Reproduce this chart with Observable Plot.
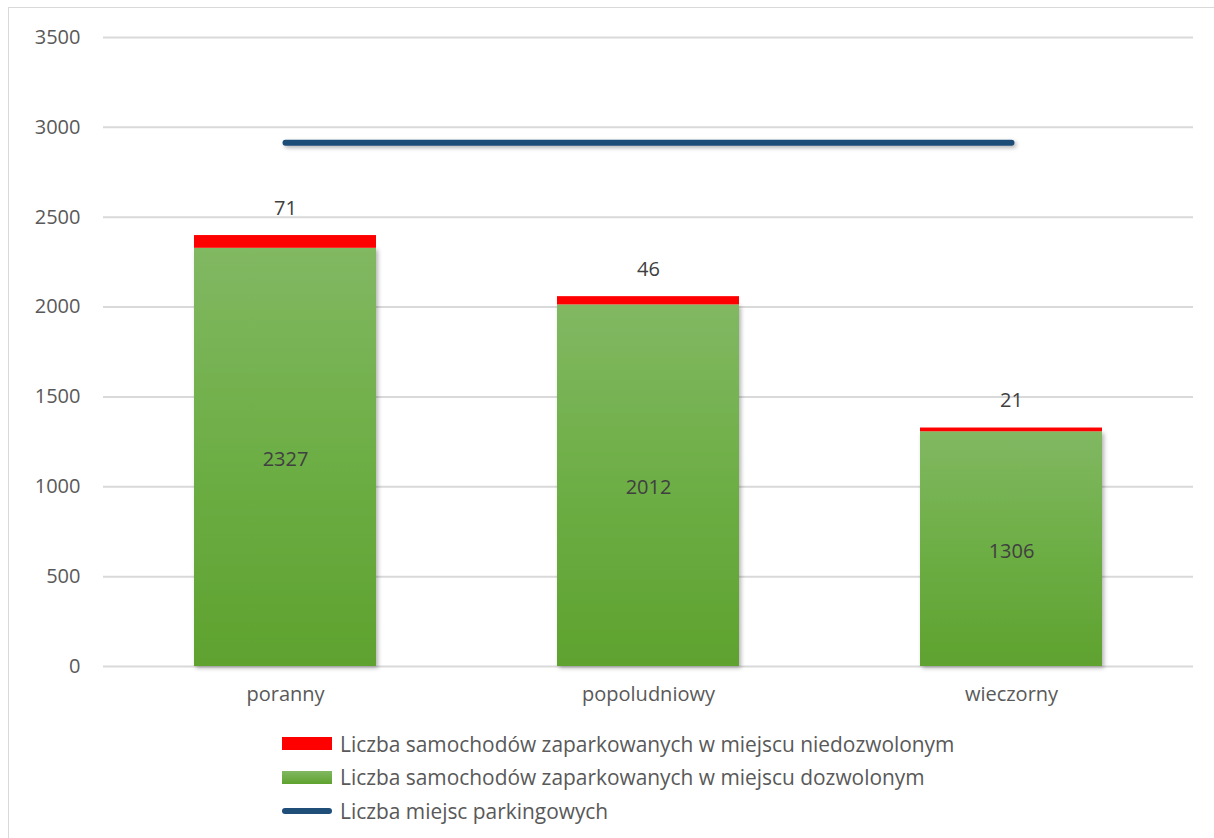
<!DOCTYPE html>
<html>
<head>
<meta charset="utf-8">
<script src="https://cdn.jsdelivr.net/npm/d3@7"></script>
<script src="https://cdn.jsdelivr.net/npm/@observablehq/plot@0.6"></script>
<style>
  html, body { margin: 0; padding: 0; background: #fff; width: 1214px; height: 838px; overflow: hidden; }
  #frame { position: absolute; left: 8px; top: 7px; width: 1220px; height: 850px; border: 1px solid #d9d9d9; box-sizing: border-box; }
  #chart { position: absolute; left: 0; top: 0; }
  #legend { position: absolute; left: 282px; top: 727px; font-family: "Open Sans", sans-serif; font-size: 20.9px; color: #595959; }
  .row { display: flex; align-items: center; height: 33.5px; }
  .sw { width: 50px; height: 13px; margin-right: 8px; }
  .ln { width: 50px; height: 6px; border-radius: 3px; background: #1f4e79; margin-right: 8px; }
</style>
</head>
<body>
<div id="frame"></div>
<div id="chart"></div>
<div id="legend"></div>
<script>
const categories = ["poranny", "popoludniowy", "wieczorny"];
const allowed = [2327, 2012, 1306];
const illegal = [71, 46, 21];
const parkingPlaces = [2915, 2915, 2915];
const yTicks = [0, 500, 1000, 1500, 2000, 2500, 3000, 3500];
const seriesNames = [
  "Liczba samochodów zaparkowanych w miejscu niedozwolonym",
  "Liczba samochodów zaparkowanych w miejscu dozwolonym",
  "Liczba miejsc parkingowych"
];

const rows = categories.map((c, i) => ({cat: c, allowed: allowed[i], illegal: illegal[i], total: allowed[i] + illegal[i], places: parkingPlaces[i]}));

const font = "'Open Sans', sans-serif";
const chart = Plot.plot({
  width: 1214,
  height: 720,
  marginLeft: 103,
  marginRight: 21,
  marginTop: 37,
  marginBottom: 54,
  style: {fontFamily: font, fontSize: "20px", color: "#595959", background: "transparent", overflow: "visible"},
  x: {domain: categories, paddingInner: 0.5, paddingOuter: 0.25, label: null, tickSize: 0, tickPadding: 20},
  y: {domain: [0, 3500], ticks: yTicks, tickFormat: d3.format("d"), label: null, tickSize: 0, tickPadding: 23},
  marks: [
    Plot.gridY(yTicks, {stroke: "#d9d9d9", strokeOpacity: 1, strokeWidth: 2}),
    Plot.barY(rows, {x: "cat", y1: 0, y2: "allowed", fill: "url(#greenGrad)"}),
    Plot.barY(rows, {x: "cat", y1: "allowed", y2: "total", fill: "#ff0000"}),
    Plot.line(rows, {x: "cat", y: "places", stroke: "#1f4e79", strokeWidth: 6, strokeLinecap: "round"}),
    Plot.text(rows, {x: "cat", y: "total", text: d => String(d.illegal), dy: -27, fill: "#404040", fontSize: 20}),
    Plot.text(rows, {x: "cat", y: d => d.allowed / 2, text: d => String(d.allowed), dy: 2, fill: "#404040", fontSize: 20})
  ]
});

const svg = d3.select(chart);
const defs = svg.insert("defs", ":first-child");
const g = defs.append("linearGradient").attr("id", "greenGrad").attr("x1", 0).attr("y1", 0).attr("x2", 0).attr("y2", 1);
g.append("stop").attr("offset", "0%").attr("stop-color", "#81b862");
g.append("stop").attr("offset", "50%").attr("stop-color", "#6dae45");
g.append("stop").attr("offset", "100%").attr("stop-color", "#5fa22f");
const sh = defs.append("filter").attr("id", "shadow").attr("filterUnits", "userSpaceOnUse")
  .attr("x", 0).attr("y", 0).attr("width", 1214).attr("height", 720);
sh.append("feDropShadow").attr("dx", 2).attr("dy", 2).attr("stdDeviation", 2).attr("flood-color", "#000").attr("flood-opacity", 0.3);
svg.selectAll("g[aria-label='bar']").filter((d, i) => i === 0).attr("filter", "url(#shadow)");
svg.selectAll("g[aria-label='line']").attr("filter", "url(#shadow)");
document.getElementById("chart").appendChild(chart);

const legend = document.getElementById("legend");
const swatches = [
  '<div class="sw" style="background:#ff0000"></div>',
  '<div class="sw" style="background:linear-gradient(#81b862,#5fa22f)"></div>',
  '<div class="ln"></div>'
];
seriesNames.forEach((n, i) => {
  const r = document.createElement("div");
  r.className = "row";
  r.innerHTML = swatches[i] + "<span>" + n + "</span>";
  legend.appendChild(r);
});
</script>
</body>
</html>
